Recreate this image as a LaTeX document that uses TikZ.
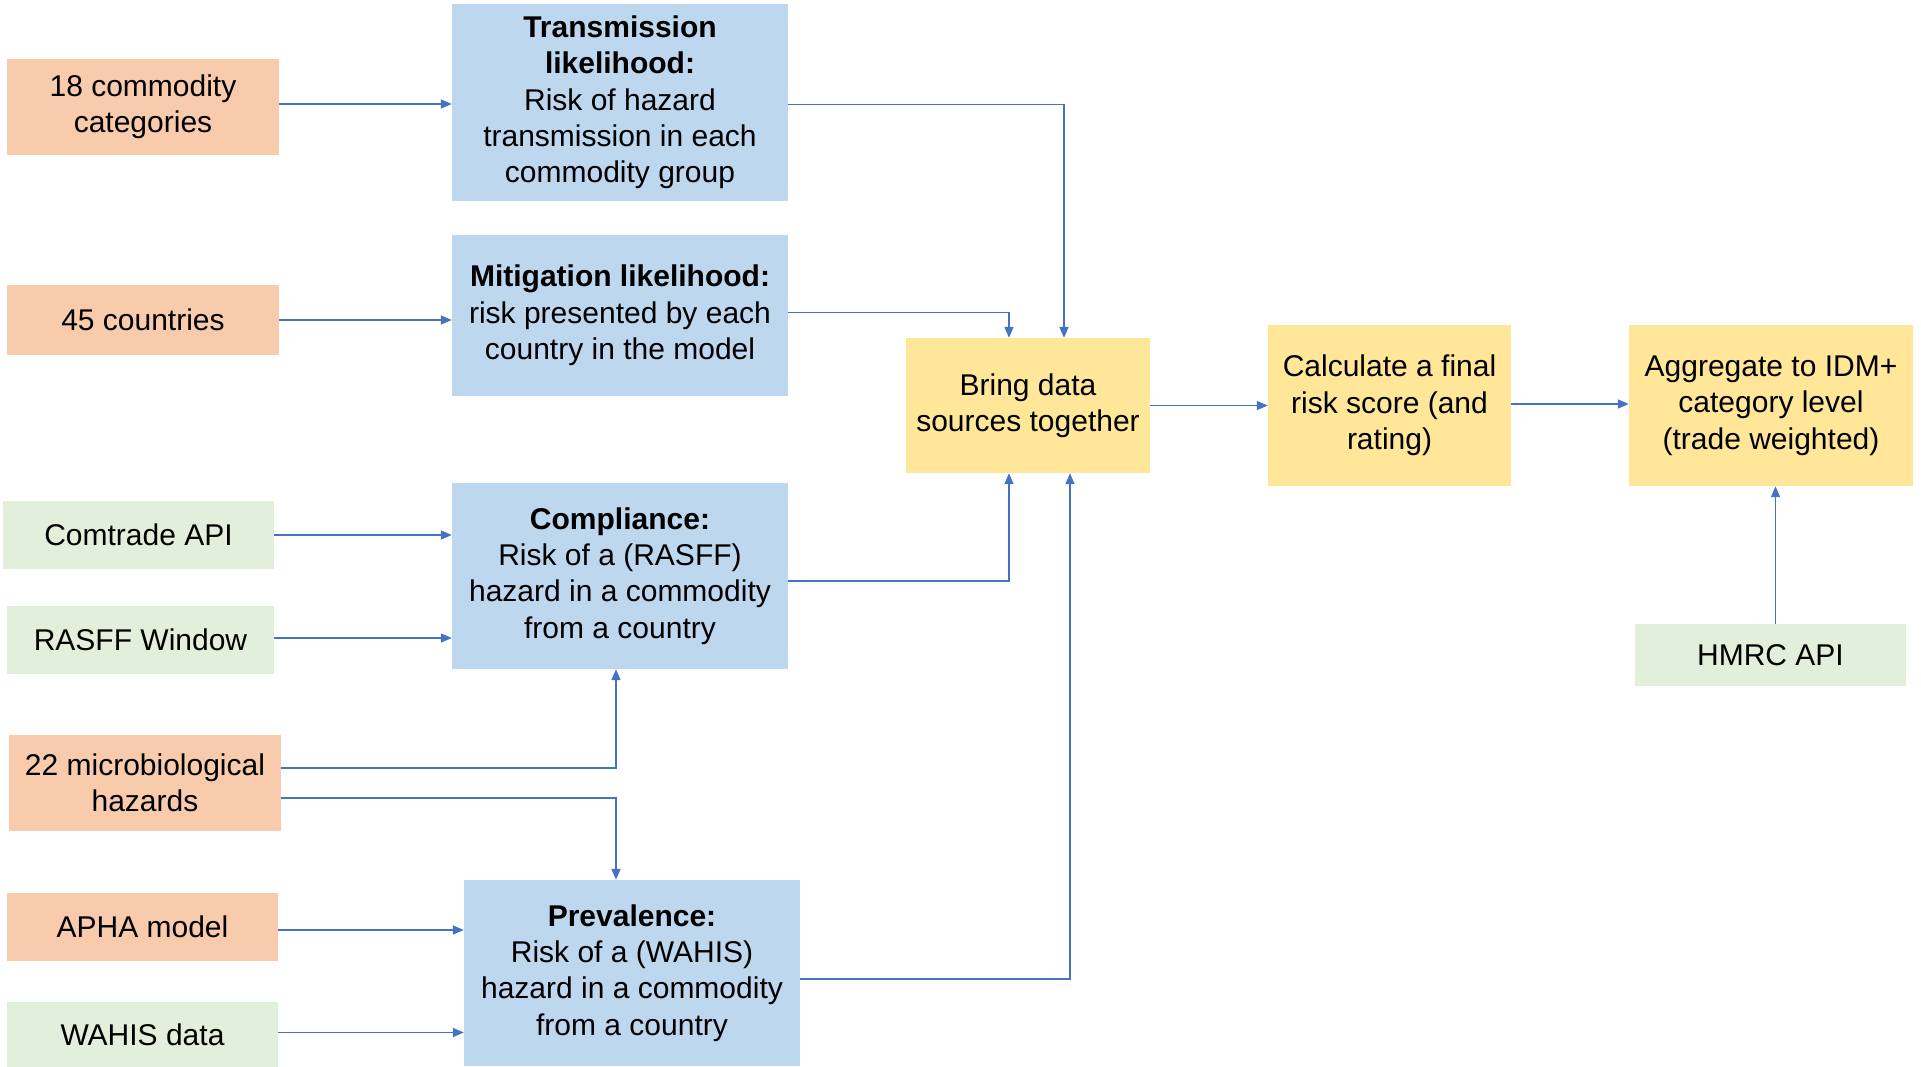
\documentclass[tikz,border=0pt]{standalone}
\usepackage{fontspec}
\setmainfont{Liberation Sans}
\usetikzlibrary{arrows.meta}
\definecolor{orangef}{HTML}{F8CBAD}
\definecolor{bluef}{HTML}{BDD7EE}
\definecolor{yellowf}{HTML}{FFE699}
\definecolor{greenf}{HTML}{E2EFDA}
\definecolor{arrowc}{HTML}{4472C4}
\begin{document}
\begin{tikzpicture}[x=1pt,y=-1pt,
  box/.style={inner sep=0pt, align=center, font=\fontsize{30}{36.3}\selectfont, text=black},
  obox/.style={box, fill=orangef},
  bbox/.style={box, fill=bluef},
  ybox/.style={box, fill=yellowf},
  gbox/.style={box, fill=greenf},
  conn/.style={draw=arrowc, line width=1.6pt, -{Triangle[length=11pt,width=9pt]}}
]
\useasboundingbox (0,0) rectangle (1921,1067);
% inputs
\node[obox, minimum width=272pt, minimum height=96pt] (n18) at (143,107) {18 commodity\\categories};
\node[obox, minimum width=272pt, minimum height=70pt] (n45) at (143,320) {45 countries};
\node[gbox, minimum width=271pt, minimum height=68pt] (comtrade) at (138.5,535) {Comtrade API};
\node[gbox, minimum width=267pt, minimum height=68pt] (rasff) at (140.5,640) {RASFF Window};
\node[obox, minimum width=272pt, minimum height=96pt] (micro) at (145,783) {22 microbiological\\hazards};
\node[obox, minimum width=271pt, minimum height=68pt] (apha) at (142.5,927) {APHA model};
\node[gbox, minimum width=271pt, minimum height=65pt] (wahis) at (142.5,1034.5) {WAHIS data};
% middle
\node[bbox, minimum width=336pt, minimum height=197pt] (trans) at (620,102.5) {\textbf{Transmission}\\\textbf{likelihood:}\\Risk of hazard\\transmission in each\\commodity group};
\node[bbox, minimum width=336pt, minimum height=161pt] (mitig) at (620,315.5) {\textbf{Mitigation likelihood:}\\risk presented by each\\country in the model};
\node[bbox, minimum width=336pt, minimum height=186pt] (compl) at (620,576) {\textbf{Compliance:}\\Risk of a (RASFF)\\hazard in a commodity\\from a country};
\node[bbox, minimum width=336pt, minimum height=186pt] (prev) at (632,973) {\textbf{Prevalence:}\\Risk of a (WAHIS)\\hazard in a commodity\\from a country};
% right
\node[ybox, minimum width=244pt, minimum height=135pt] (bring) at (1028,405.5) {Bring data\\sources together};
\node[ybox, minimum width=243pt, minimum height=161pt] (calc) at (1389.5,405.5) {Calculate a final\\risk score (and\\rating)};
\node[ybox, minimum width=284pt, minimum height=161pt] (aggr) at (1771,405.5) {Aggregate to IDM+\\category level\\(trade weighted)};
\node[gbox, minimum width=271pt, minimum height=62pt] (hmrc) at (1770.5,655) {HMRC API};
% connectors
\draw[conn] ([yshift=3pt]n18.east) -- ([yshift=3pt]n18.east -| trans.west);
\draw[conn] (n45.east) -- (n45.east -| mitig.west);
\draw[conn] (comtrade.east) -- (comtrade.east -| compl.west);
\draw[conn] ([yshift=2pt]rasff.east) -- ([yshift=2pt]rasff.east -| compl.west);
\draw[conn] ([yshift=15pt]micro.east) -| ([xshift=-4pt]compl.south);
\draw[conn] ([yshift=-15pt]micro.east) -| ([xshift=-16pt]prev.north);
\draw[conn] ([yshift=-3pt]apha.east) -- ([yshift=-3pt]apha.east -| prev.west);
\draw[conn] ([yshift=2pt]wahis.east) -- ([yshift=2pt]wahis.east -| prev.west);
\draw[conn] ([yshift=-2pt]trans.east) -| ([xshift=36pt]bring.north);
\draw[conn] ([yshift=3pt]mitig.east) -| ([xshift=-19pt]bring.north);
\draw[conn] ([yshift=-5pt]compl.east) -| ([xshift=-19pt]bring.south);
\draw[conn] ([yshift=-6pt]prev.east) -| ([xshift=42pt]bring.south);
\draw[conn] (bring.east) -- (calc.west);
\draw[conn] ([yshift=1.5pt]calc.east) -- ([yshift=1.5pt]aggr.west);
\draw[conn] ([xshift=5pt]hmrc.north) -- ([xshift=5pt]hmrc.north |- aggr.south);
\end{tikzpicture}
\end{document}
